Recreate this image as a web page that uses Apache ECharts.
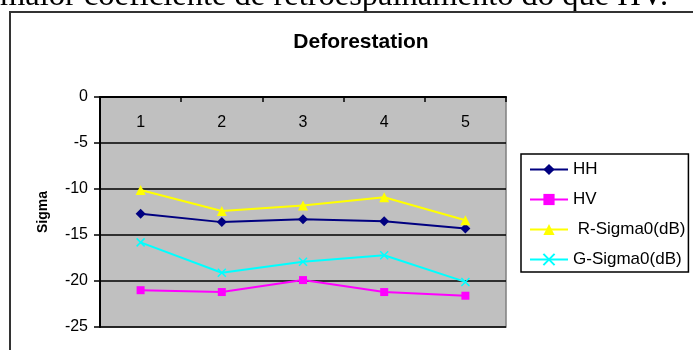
<!DOCTYPE html>
<html>
<head>
<meta charset="utf-8">
<style>
  html, body { margin: 0; padding: 0; background: #fff; }
  #chart { width: 693px; height: 350px; }
</style>
<script src="https://cdn.jsdelivr.net/npm/echarts@6/dist/echarts.min.js"></script>
</head>
<body>
<div id="chart"></div>
<script>
// Sample points along the transect
const categories = ['1', '2', '3', '4', '5'];

// Backscatter values (dB)
const hh = [-12.7, -13.6, -13.3, -13.5, -14.3];
const hv = [-21.0, -21.2, -19.9, -21.2, -21.6];
const rSigma = [-10.1, -12.4, -11.8, -10.9, -13.4];
const gSigma = [-15.8, -19.1, -17.9, -17.2, -20.1];

// Value axis range
const yMin = -25;
const yMax = 0;
const yStep = 5;

const seriesNames = ['HH', 'HV', ' R-Sigma0(dB)', 'G-Sigma0(dB)'];

const crossSymbol = 'path://M0,0 L10,10 M10,0 L0,10';

const chart = echarts.init(document.getElementById('chart'), null, { renderer: 'canvas' });

function lineSeries(name, data, color, symbol, size) {
  return {
    name: name,
    type: 'line',
    data: data,
    symbol: symbol,
    symbolSize: size,
    showSymbol: true,
    lineStyle: { color: color, width: 2 },
    itemStyle: { color: color, borderColor: color, borderWidth: symbol === crossSymbol ? 1.5 : 0 },
    emphasis: { disabled: true },
    animation: false
  };
}

chart.setOption({
  backgroundColor: '#ffffff',
  animation: false,
  title: {
    text: 'Deforestation',
    left: 356,
    textAlign: 'center',
    top: 27,
    textStyle: { fontFamily: 'Liberation Sans, Arial, sans-serif', fontSize: 21, fontWeight: 'bold', color: '#000' }
  },
  legend: {
    orient: 'vertical',
    left: 521,
    top: 154,
    data: seriesNames,
    itemWidth: 38,
    itemHeight: 14,
    itemGap: 13,
    padding: [7, 3, 4, 8],
    backgroundColor: '#ffffff',
    borderColor: '#000000',
    borderWidth: 1.5,
    borderRadius: 0,
    textStyle: { fontFamily: 'Liberation Sans, Arial, sans-serif', fontSize: 17, color: '#000' },
    selectedMode: false
  },
  grid: {
    left: 100,
    top: 97,
    right: 187,
    bottom: 23,
    show: true,
    backgroundColor: '#c0c0c0',
    borderColor: '#808080',
    borderWidth: 1.5,
    containLabel: false
  },
  xAxis: {
    type: 'category',
    data: categories,
    position: 'top',
    boundaryGap: true,
    axisLine: { show: true, lineStyle: { color: '#000', width: 2 } },
    axisTick: { show: true, inside: true, length: 5, lineStyle: { color: '#000', width: 1.5 } },
    axisLabel: {
      inside: true,
      margin: 18,
      fontFamily: 'Liberation Sans, Arial, sans-serif',
      fontSize: 16,
      color: '#000'
    },
    splitLine: { show: false }
  },
  yAxis: {
    type: 'value',
    min: yMin,
    max: yMax,
    interval: yStep,
    name: 'Sigma',
    nameLocation: 'middle',
    nameGap: 50,
    nameRotate: 90,
    nameTextStyle: { fontFamily: 'Liberation Sans, Arial, sans-serif', fontSize: 14, fontWeight: 'bold', color: '#000' },
    axisLine: { show: true, lineStyle: { color: '#000', width: 2 } },
    axisTick: { show: true, length: 6, lineStyle: { color: '#000', width: 1.5 } },
    axisLabel: {
      margin: 12,
      fontFamily: 'Liberation Sans, Arial, sans-serif',
      fontSize: 16,
      color: '#000'
    },
    splitLine: { show: true, lineStyle: { color: '#000', width: 1.5 } }
  },
  series: [
    lineSeries(seriesNames[0], hh, '#000080', 'diamond', 10),
    lineSeries(seriesNames[1], hv, '#ff00ff', 'rect', 8),
    lineSeries(seriesNames[2], rSigma, '#ffff00', 'triangle', 10),
    lineSeries(seriesNames[3], gSigma, '#00ffff', crossSymbol, 8)
  ],
  graphic: [
    {
      type: 'text',
      left: 0,
      top: -20,
      silent: true,
      style: {
        text: 'maior coeficiente de retroespalhamento do que HV.',
        fontFamily: 'Liberation Serif, Times New Roman, serif',
        fontSize: 32.5,
        fill: '#000'
      }
    },
    {
      type: 'rect',
      silent: true,
      shape: { x: 10, y: 12, width: 720, height: 360 },
      style: { fill: 'none', stroke: '#333', lineWidth: 2 }
    }
  ]
});
</script>
</body>
</html>
